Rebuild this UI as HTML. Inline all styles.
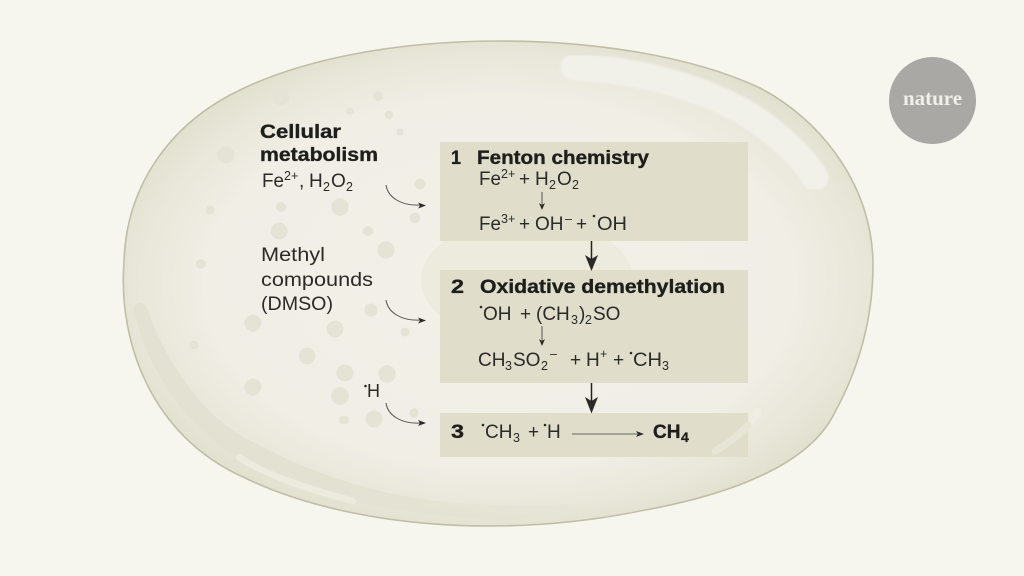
<!DOCTYPE html>
<html><head><meta charset="utf-8"><style>
html,body{margin:0;padding:0;background:#f6f6ef;width:1024px;height:576px;overflow:hidden}
svg{display:block}
text{font-family:"Liberation Sans",sans-serif;fill:#2a2a28;font-size:19px}
.b{font-weight:bold;fill:#1e1e1c;stroke:#1e1e1c;stroke-width:.35}
.s{font-size:12.5px}
</style></head><body>
<svg width="1024" height="576" viewBox="0 0 1024 576" xmlns="http://www.w3.org/2000/svg">
<defs>
<radialGradient id="g" cx="500" cy="283" r="400" gradientUnits="userSpaceOnUse" gradientTransform="translate(500 283) scale(1 .63) translate(-500 -283)">
<stop offset="0" stop-color="#f2f0e8"/><stop offset=".74" stop-color="#f0eee5"/><stop offset=".9" stop-color="#e9e7d9"/><stop offset="1" stop-color="#e2e0cf"/>
</radialGradient>
<linearGradient id="band" x1="330" y1="0" x2="680" y2="0" gradientUnits="userSpaceOnUse">
<stop offset="0" stop-color="#e3e1d1"/><stop offset="1" stop-color="#e3e1d1" stop-opacity="0"/>
</linearGradient>
<clipPath id="cell"><path d="M124 262C126 190 165 130 230 95C300 58 400 41 500 41C590 41 690 55 760 88C825 122 873 190 873 265C873 320 858 370 835 412C810 465 730 495 640 511C590 521 540 526 490 526C400 526 310 510 243 477C150 435 118 340 124 262Z"/></clipPath>
<filter id="soft" x="-10%" y="-10%" width="120%" height="120%"><feGaussianBlur stdDeviation="1"/></filter>
</defs>
<rect width="1024" height="576" fill="#f6f6ef"/>
<path d="M124 262C126 190 165 130 230 95C300 58 400 41 500 41C590 41 690 55 760 88C825 122 873 190 873 265C873 320 858 370 835 412C810 465 730 495 640 511C590 521 540 526 490 526C400 526 310 510 243 477C150 435 118 340 124 262Z" fill="url(#g)" stroke="#c0bea5" stroke-width="1.6"/>
<g clip-path="url(#cell)">
<path d="M134 312C132 302 144 299 148 310C165 360 200 410 237 433C280 458 340 485 410 497C470 507 560 510 680 495L680 515L500 520C400 515 310 497 255 470C195 435 150 380 134 312Z" fill="url(#band)"/>
<path d="M239 457C270 478 320 492 353 501" fill="none" stroke="#ecebde" stroke-width="6.500" stroke-linecap="round"/>
<path d="M574 67C640 70 720 90 770 130C795 150 808 165 815 178" fill="none" stroke="#f1f0e9" stroke-width="27" stroke-linecap="round" filter="url(#soft)"/>
</g>
<ellipse cx="527" cy="280" rx="106" ry="62" fill="#ecebdd"/>
<g fill="#e4e3d5">
<circle cx="281" cy="97" r="8.500"/><circle cx="378" cy="96" r="5"/><ellipse cx="350" cy="111" rx="4" ry="3.500"/><circle cx="389" cy="115" r="4.300"/><circle cx="400" cy="132" r="3.500"/>
<circle cx="226" cy="155" r="8.500"/><circle cx="420" cy="184" r="5.500"/><circle cx="210" cy="210" r="4.500"/><circle cx="281" cy="207" r="5"/><circle cx="340" cy="207" r="8.700"/><circle cx="415" cy="218" r="5.300"/>
<circle cx="279" cy="231" r="8.500"/><ellipse cx="368" cy="231" rx="5.500" ry="4.700"/><circle cx="386" cy="250" r="8.700"/><circle cx="201" cy="264" r="5"/>
<circle cx="253" cy="323" r="8.500"/><circle cx="335" cy="329" r="8.500"/><circle cx="371" cy="310" r="6.500"/><circle cx="405" cy="332" r="4.500"/><ellipse cx="194" cy="345" rx="4.700" ry="4.300"/>
<circle cx="307" cy="356" r="8.300"/><circle cx="345" cy="373" r="8.500"/><circle cx="387" cy="374" r="8.700"/><circle cx="253" cy="387" r="8.500"/><circle cx="340" cy="396" r="8.700"/><circle cx="414" cy="413" r="4.800"/><ellipse cx="344" cy="420" rx="5" ry="4.300"/><circle cx="374" cy="419" r="8.500"/>
</g>
<path d="M757 412C748 428 732 442 715 451" fill="none" stroke="#efeee6" stroke-width="8" stroke-linecap="round"/>
<rect x="440" y="142" width="308" height="99" fill="#e0decb"/>
<rect x="440" y="270" width="308" height="113" fill="#e0decb"/>
<rect x="440" y="413" width="308" height="44" fill="#e0decb"/>
<path d="M748 425C740 434 728 444 715 451" fill="none" stroke="#e6e5d6" stroke-width="7" stroke-linecap="round"/>

<circle cx="932.500" cy="100.500" r="43.500" fill="#a9a8a4"/>
<text x="932.500" y="105" text-anchor="middle" style="font-family:'Liberation Serif',serif;font-size:21px;font-weight:bold;fill:#f0efe8" textLength="59" lengthAdjust="spacingAndGlyphs">nature</text>

<!-- left labels -->
<text class="b" x="260" y="138" textLength="81" lengthAdjust="spacingAndGlyphs">Cellular</text>
<text class="b" x="260" y="161" textLength="118" lengthAdjust="spacingAndGlyphs">metabolism</text>
<text x="262" y="187" textLength="22" lengthAdjust="spacingAndGlyphs">Fe</text><text class="s" x="284" y="180">2+</text><text x="299" y="187">,</text>
<text x="309" y="187">H</text><text class="s" x="323" y="191">2</text><text x="331" y="187">O</text><text class="s" x="346" y="191">2</text>
<text x="261" y="261" textLength="64" lengthAdjust="spacingAndGlyphs">Methyl</text>
<text x="261" y="286" textLength="112" lengthAdjust="spacingAndGlyphs">compounds</text>
<text x="261" y="310" textLength="72" lengthAdjust="spacingAndGlyphs">(DMSO)</text>
<circle cx="365.500" cy="386" r="1.300" fill="#2a2a28"/><text x="367" y="397" style="font-size:18px">H</text>

<!-- curved arrows -->
<g fill="none" stroke="#55554f" stroke-width="1">
<path d="M386 185C388 198 402 206 420 205"/><path d="M386 300C388 313 402 321 420 320"/><path d="M386 403C388 416 402 424 420 423"/>
<path d="M572 434H640" stroke="#66665f"/><path d="M542 192V206"/><path d="M542 326V342"/>
</g>
<g fill="#2a2a28">
<path d="M426 205.500L418 202.500L420 205.500L418 208.500Z"/><path d="M426 320.500L418 317.500L420 320.500L418 323.500Z"/><path d="M426 423L418 420L420 423L418 426Z"/>
<path d="M644 434L636 431L638 434L636 437Z"/><path d="M542 210L539 203L542 205L545 203Z"/><path d="M542 346L539 339L542 341L545 339Z"/>
<path d="M591.500 271L585 255L591.500 259L598 255Z"/><path d="M591.500 413.500L585 397L591.500 401L598 397Z"/>
</g>
<path d="M591.500 241V260M591.500 383V402" stroke="#222" stroke-width="1.500"/>

<!-- box 1 -->
<text class="b" x="451" y="164" textLength="10" lengthAdjust="spacingAndGlyphs">1</text>
<text class="b" x="477" y="164" textLength="172" lengthAdjust="spacingAndGlyphs">Fenton chemistry</text>
<text x="479" y="185" textLength="22" lengthAdjust="spacingAndGlyphs">Fe</text><text class="s" x="501" y="178">2+</text><text x="519" y="185" textLength="10">+</text>
<text x="535" y="185">H</text><text class="s" x="549" y="189">2</text><text x="557" y="185">O</text><text class="s" x="572" y="189">2</text>
<text x="479" y="230" textLength="22" lengthAdjust="spacingAndGlyphs">Fe</text><text class="s" x="501" y="223">3+</text><text x="519" y="230" textLength="10">+</text>
<text x="535" y="230">OH</text><text class="s" x="565" y="223">–</text><text x="576" y="230" textLength="10">+</text>
<circle cx="594" cy="216" r="1.300" fill="#2a2a28"/><text x="597" y="230" textLength="30" lengthAdjust="spacingAndGlyphs">OH</text>

<!-- box 2 -->
<text class="b" x="451" y="293" textLength="13" lengthAdjust="spacingAndGlyphs">2</text>
<text class="b" x="480" y="293" textLength="245" lengthAdjust="spacingAndGlyphs">Oxidative demethylation</text>
<circle cx="481" cy="307" r="1.300" fill="#2a2a28"/><text x="483" y="320">OH</text><text x="520" y="320">+</text>
<text x="536" y="320">(CH</text><text class="s" x="571" y="324">3</text><text x="579" y="320">)</text><text class="s" x="585" y="324">2</text><text x="593" y="320">SO</text>
<text x="478" y="366">CH</text><text class="s" x="505" y="370">3</text><text x="513" y="366">SO</text><text class="s" x="541" y="370">2</text><text class="s" x="550" y="358">–</text>
<text x="570" y="366">+</text><text x="586" y="366">H</text><text class="s" x="600" y="358">+</text><text x="613" y="366">+</text>
<circle cx="631" cy="353" r="1.300" fill="#2a2a28"/><text x="633" y="366" textLength="29" lengthAdjust="spacingAndGlyphs">CH</text><text class="s" x="662" y="370">3</text>

<!-- box 3 -->
<text class="b" x="451" y="438" textLength="13" lengthAdjust="spacingAndGlyphs">3</text>
<circle cx="483" cy="425" r="1.300" fill="#2a2a28"/><text x="485" y="438">CH</text><text class="s" x="513" y="442">3</text><text x="528" y="438">+</text>
<circle cx="545" cy="425" r="1.300" fill="#2a2a28"/><text x="547" y="438">H</text>
<text class="b" x="653" y="438">CH</text><text class="b" x="681" y="442" style="font-size:14px">4</text>
</svg>
</body></html>
